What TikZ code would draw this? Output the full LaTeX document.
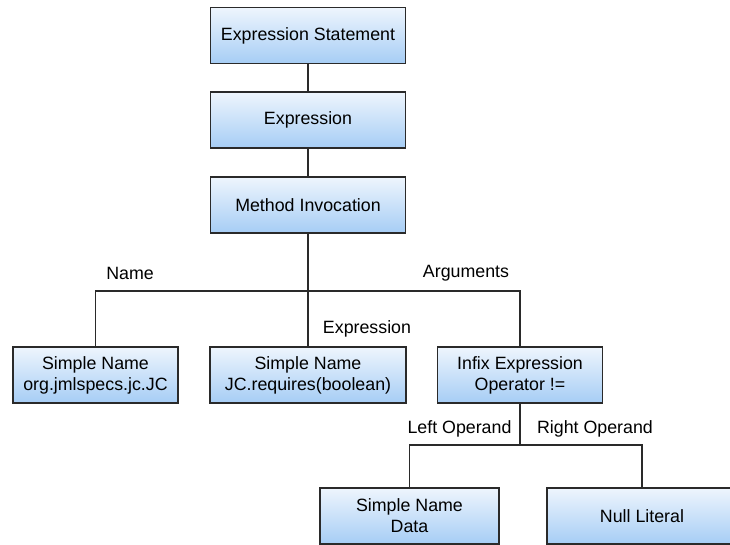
\documentclass[tikz,border=0pt]{standalone}
\usepackage{fontspec}
\setmainfont{Liberation Sans}
\definecolor{boxtop}{HTML}{EEF5FD}
\definecolor{boxbot}{HTML}{A6CDF5}
\definecolor{linec}{HTML}{2A2A2A}
\begin{document}
\begin{tikzpicture}[x=1pt,y=-1pt,
  box/.style={draw=linec, line width=1.3pt, top color=boxtop, bottom color=boxbot,
    minimum height=56pt, align=center, inner sep=0pt, font=\fontsize{17.8}{21}\selectfont},
  lbl/.style={font=\fontsize{17.8}{21}\selectfont, inner sep=0pt},
  conn/.style={draw=linec, line width=1.4pt}]
\useasboundingbox (0,0) rectangle (730,544);
\node[box, minimum width=195pt] (es) at (308,35.5) {Expression Statement};
\node[box, minimum width=195pt] (ex) at (308,120) {Expression};
\node[box, minimum width=195pt] (mi) at (308,205) {Method Invocation};
\node[box, minimum width=165pt] (sn1) at (95.5,375) {Simple Name\\org.jmlspecs.jc.JC};
\node[box, minimum width=196pt] (sn2) at (308,375) {Simple Name\\JC.requires(boolean)};
\node[box, minimum width=165pt] (inf) at (520,375) {Infix Expression\\Operator !=};
\node[box, minimum width=179pt] (dat) at (409.5,516) {Simple Name\\Data};
\node[box, minimum width=190pt] (nul) at (642,516) {Null Literal};

\coordinate (j1) at (308,291);
\coordinate (j2) at (520,445);

\draw[conn] (es.south) -- (ex.north);
\draw[conn] (ex.south) -- (mi.north);
\draw[conn] (mi.south) -- (j1);
\draw[conn] (j1) -| (sn1.north);
\draw[conn] (j1) -- (sn2.north);
\draw[conn] (j1) -| (inf.north);
\draw[conn] (inf.south) -- (j2);
\draw[conn] (j2) -| (dat.north);
\draw[conn] (j2) -| (nul.north);

\node[lbl] (lname) at (130,273) {Name};
\node[lbl] (largs) at (466,273) {Arguments};
\node[lbl] (lexpr) at (367,329) {Expression};
\node[lbl] (lleft) at (459.5,429) {Left Operand};
\node[lbl] (lright) at (595,429) {Right Operand};
\end{tikzpicture}
\end{document}
